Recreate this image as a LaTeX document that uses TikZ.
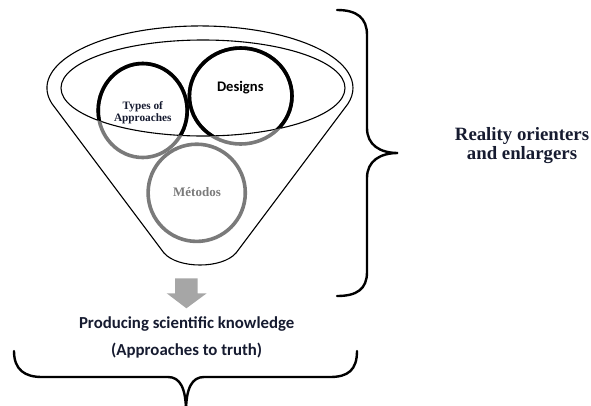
\documentclass[tikz,border=0pt]{standalone}
\usepackage{fontspec}
\newfontfamily\timesf{Liberation Serif}
\newfontfamily\calf{Carlito}
\definecolor{ringgray}{HTML}{7A7A7A}
\definecolor{arrowgray}{HTML}{A6A6A6}
\definecolor{navytext}{HTML}{161B30}
\begin{document}
\begin{tikzpicture}[x=1pt,y=-1pt,
  funnelline/.style={draw=black,line width=1.1pt},
  ringgrey/.style={draw=ringgray,line width=3.6pt},
  ringblack/.style={draw=black,line width=3.6pt},
  bracestyle/.style={draw=black,line width=2.4pt,line cap=round},
  lbl/.style={inner sep=0pt,anchor=base}]
\useasboundingbox (0,0) rectangle (591,405);
\clip (0,0) rectangle (591,405);

% funnel outline
\draw[funnelline] (52.2,104) arc[start angle=195,end angle=-15,x radius=153pt,y radius=62pt]
  -- (236,253) .. controls (222,269) and (178,269) .. (164,253) -- cycle;
% inner rim
\draw[funnelline] (203,88) ellipse [x radius=142pt, y radius=48pt];

% circles (grey everywhere)
\draw[ringgrey] (142.7,110.5) ellipse [x radius=44.5pt, y radius=47pt];
\draw[ringgrey] (240.7,96) ellipse [x radius=51.3pt, y radius=48pt];
\draw[ringgrey] (196.7,192.8) circle [radius=48.6pt];
% black parts inside the rim
\begin{scope}
  \clip (203,88) ellipse [x radius=142pt, y radius=48pt];
  \draw[ringblack] (142.7,110.5) ellipse [x radius=44.5pt, y radius=47pt];
  \draw[ringblack] (240.7,96) ellipse [x radius=51.3pt, y radius=48pt];
\end{scope}

% circle labels
\node[lbl,font=\timesf\bfseries\fontsize{11.3}{11.7}\selectfont,text=navytext] (types1) at (142.8,109.3) {Types of};
\node[lbl,font=\timesf\bfseries\fontsize{11.3}{11.7}\selectfont,text=navytext] (types2) at (142.8,121) {Approaches};
\node[lbl,font=\calf\bfseries\fontsize{14.6}{16}\selectfont,text=black] (designs) at (240.3,91.7) {Designs};
\node[lbl,font=\timesf\bfseries\fontsize{13}{14}\selectfont,text=ringgray] (metodos) at (197,196.7) {Métodos};

% block arrow
\fill[arrowgray] (175,278.3) -- (197.7,278.3) -- (197.7,293.3) -- (206.7,293.3)
  -- (186.4,308.3) -- (166.7,293.3) -- (175,293.3) -- cycle;

% result text
\node[lbl,font=\calf\bfseries\fontsize{16.8}{20}\selectfont,text=navytext] (produce) at (186.7,328.3) {Producing scientific knowledge};
\node[lbl,font=\calf\bfseries\fontsize{16.8}{20}\selectfont,text=navytext] (truth) at (186.7,355) {(Approaches to truth)};

% right brace
\draw[bracestyle] (337,10) .. controls (357,10) and (367,18) .. (367,35) -- (367,128)
  .. controls (367,145) and (380,153) .. (398,153)
  .. controls (380,153) and (367,161) .. (367,178) -- (367,272)
  .. controls (367,289) and (357,296) .. (337,296);
\node[lbl,font=\timesf\bfseries\fontsize{18.8}{19}\selectfont,text=navytext] (reality1) at (522,140) {Reality orienters};
\node[lbl,font=\timesf\bfseries\fontsize{18.8}{19}\selectfont,text=navytext] (reality2) at (522,159) {and enlargers};

% bottom brace
\draw[bracestyle] (14,351) .. controls (14,370) and (25,377) .. (42,377) -- (168,377)
  .. controls (180,377) and (186,388) .. (186,412);
\draw[bracestyle] (186,412) .. controls (186,388) and (192,377) .. (204,377) -- (330,377)
  .. controls (348,377) and (357,370) .. (357,351);
\end{tikzpicture}
\end{document}
